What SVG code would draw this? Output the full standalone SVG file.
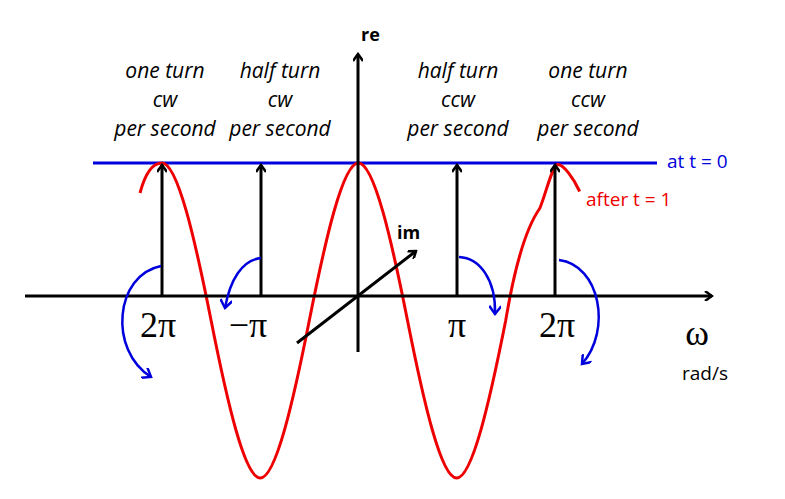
<svg xmlns="http://www.w3.org/2000/svg" width="785" height="499" viewBox="0 0 785 499">
<style>
.ax{stroke:#000;stroke-width:3;fill:none}
.rot{stroke:#0000dd;stroke-width:2.5;fill:none}
.t{font-family:"Open Sans","Liberation Sans",sans-serif;font-size:21px;font-style:italic;text-anchor:middle}
.pi{font-family:"Liberation Serif",serif;font-size:36px;text-anchor:middle}
.lb{font-family:"Open Sans","Liberation Sans",sans-serif;font-size:18px;font-weight:bold}
</style>
<defs>
<marker id="ah" markerWidth="10" markerHeight="10" refX="8" refY="5" orient="auto" markerUnits="userSpaceOnUse"><path d="M1,0 L8,5 L1,10" fill="none" stroke="#000" stroke-width="2.5"/></marker>
<marker id="bh" markerWidth="12" markerHeight="12" refX="9" refY="6" orient="auto" markerUnits="userSpaceOnUse"><path d="M1,0 L9,6 L1,12" fill="none" stroke="#0000dd" stroke-width="2.5"/></marker>
</defs>
<g id="labels">
<text class="t" x="165" y="78">one turn</text><text class="t" x="165" y="107">cw</text><text class="t" x="165" y="136">per second</text>
<text class="t" x="280" y="78">half turn</text><text class="t" x="280" y="107">cw</text><text class="t" x="280" y="136">per second</text>
<text class="t" x="458" y="78">half turn</text><text class="t" x="458" y="107">ccw</text><text class="t" x="458" y="136">per second</text>
<text class="t" x="588" y="78">one turn</text><text class="t" x="588" y="107">ccw</text><text class="t" x="588" y="136">per second</text>
</g>
<g id="connectors">
<line x1="93" y1="163" x2="657" y2="163" stroke="#0000dd" stroke-width="3"/>
<path d="M140,193 Q148,163 162,163 c15.6,0 33.1,76.7 49.1,157.5 c16,80.7 33.5,157.5 49.1,157.5 c15.6,0 33.1,-76.7 49.1,-157.5 c16,-80.7 33.5,-157.5 49.1,-157.5 c15.6,0 33.1,76.7 49.1,157.5 c16,80.7 33.5,157.5 49.1,157.5 c15.6,0 33.1,-76.7 49.1,-157.5 c10,-60 22,-95 34,-112 c6,-14 12,-42 18,-44 c6,0 16,14 22,27" stroke="#ee0000" stroke-width="3" fill="none"/>
<line class="ax" x1="25" y1="296" x2="712" y2="296" marker-end="url(#ah)"/>
<line class="ax" x1="358" y1="352" x2="358" y2="54" marker-end="url(#ah)"/>
<line class="ax" x1="297" y1="343" x2="416" y2="251" marker-end="url(#ah)"/>
<line class="ax" x1="162" y1="296" x2="162" y2="165" marker-end="url(#ah)"/>
<line class="ax" x1="261" y1="296" x2="261" y2="165" marker-end="url(#ah)"/>
<line class="ax" x1="457" y1="296" x2="457" y2="165" marker-end="url(#ah)"/>
<line class="ax" x1="555" y1="296" x2="555" y2="165" marker-end="url(#ah)"/>
<path class="rot" d="M161,266 C115,275 108,350 151,377" marker-end="url(#bh)"/>
<path class="rot" d="M261,258 C242,260 230,280 225,308" marker-end="url(#bh)"/>
<path class="rot" d="M459,257 C480,258 496,280 495,314" marker-end="url(#bh)"/>
<path class="rot" d="M559,260 C600,265 612,330 582,364" marker-end="url(#bh)"/>
</g>
<g id="axislabels">
<text class="lb" x="361" y="41">re</text>
<text class="lb" x="397" y="239">im</text>
<text class="pi" x="158" y="337">2π</text>
<text class="pi" x="248" y="337">−π</text>
<text class="pi" x="457" y="337">π</text>
<text class="pi" x="557" y="337">2π</text>
<text class="pi" x="697" y="345" font-size="34">ω</text>
<text x="705" y="380" font-family="Open Sans, Liberation Sans, sans-serif" font-size="19" text-anchor="middle">rad/s</text>
<text x="667" y="168" font-family="Open Sans, Liberation Sans, sans-serif" font-size="19" fill="#0000dd">at t = 0</text>
<text x="586" y="206" font-family="Open Sans, Liberation Sans, sans-serif" font-size="19" fill="#ee0000">after t = 1</text>
</g>
</svg>
